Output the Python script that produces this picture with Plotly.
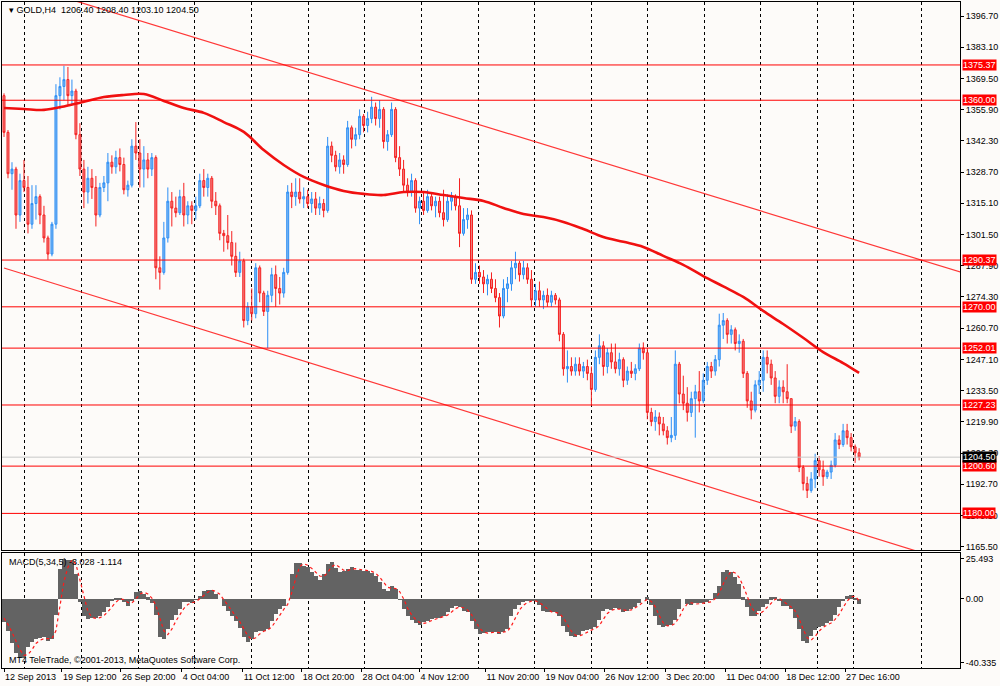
import plotly.graph_objects as go

# ---- GOLD H4 candles (one bar per slot) ----
first_open = 1362.0
closes = [1346, 1328, 1330, 1310, 1325, 1322, 1306, 1315, 1318, 1310,
          1300, 1293, 1306, 1362, 1366, 1369, 1362, 1364, 1345, 1330,
          1320, 1326, 1322, 1310, 1322, 1324, 1333, 1331, 1335, 1332,
          1321, 1323, 1340, 1337, 1330, 1334, 1330, 1335, 1287, 1285,
          1300, 1316, 1313, 1311, 1318, 1310, 1314, 1312, 1314, 1325,
          1322, 1326, 1316, 1314, 1302, 1301, 1298, 1292, 1285, 1290,
          1264, 1270, 1267, 1287, 1276, 1268, 1275, 1284, 1278, 1276,
          1285, 1320, 1318, 1320, 1317, 1318, 1315, 1317, 1313, 1315,
          1312, 1340, 1336, 1331, 1334, 1332, 1348, 1343, 1345, 1353,
          1349, 1352, 1357, 1352, 1356, 1342, 1345, 1356, 1335, 1330,
          1323, 1320, 1325, 1313, 1316, 1312, 1318, 1314, 1316, 1311,
          1308, 1316, 1318, 1314, 1302, 1308, 1310, 1282, 1285, 1283,
          1280, 1282, 1278, 1274, 1266, 1278, 1280, 1287, 1289, 1284,
          1287, 1282, 1273, 1277, 1273, 1275, 1272, 1275, 1273, 1258,
          1243, 1244, 1242, 1245, 1242, 1244, 1241, 1234, 1248, 1253,
          1244, 1250, 1246, 1243, 1247, 1238, 1242, 1241, 1243, 1252,
          1250, 1224, 1220, 1222, 1219, 1216, 1213, 1214, 1245, 1232,
          1228, 1224, 1230, 1233, 1229, 1238, 1244, 1242, 1247, 1262,
          1264, 1258, 1260, 1254, 1255, 1241, 1229, 1225, 1236, 1238,
          1248, 1245, 1239, 1231, 1235, 1233, 1230, 1218, 1220, 1200,
          1193, 1190, 1195, 1203, 1199, 1196, 1198, 1201, 1212, 1210,
          1216, 1213, 1209, 1206.4, 1204.5]
highs = [1363, 1347, 1333, 1331, 1328, 1334, 1327, 1323, 1323, 1319,
         1314, 1301, 1307, 1367, 1370, 1375, 1374.5, 1369, 1365, 1350,
         1334, 1331, 1330, 1327, 1324, 1327, 1337, 1336, 1338, 1339,
         1335, 1325, 1343, 1350.5, 1343, 1340, 1337, 1337, 1336, 1292,
         1307, 1322, 1320, 1318, 1321, 1324, 1316, 1316, 1318, 1328,
         1330, 1328, 1327, 1320, 1315, 1303.5, 1310, 1303, 1298, 1294,
         1291, 1272, 1278, 1289, 1288, 1277, 1277, 1287, 1288, 1283,
         1287, 1323, 1324, 1326, 1326, 1322, 1321, 1320, 1320, 1318,
         1317, 1344, 1342, 1338, 1337, 1336, 1351, 1349, 1348, 1356,
         1354, 1355, 1361.5, 1359, 1360, 1357, 1347, 1359, 1357, 1340,
         1334, 1326, 1328, 1326, 1318, 1320, 1321, 1320, 1318, 1318,
         1321, 1319, 1320, 1319, 1326, 1313, 1313, 1312, 1289, 1288,
         1286, 1284, 1285, 1282, 1276, 1282, 1283, 1290, 1294, 1290,
         1290, 1289, 1286, 1280, 1281, 1277, 1278, 1277, 1276, 1274,
         1259, 1251, 1248, 1248, 1248, 1246, 1247, 1244, 1251, 1258,
         1255, 1252, 1254, 1254, 1250, 1248, 1244, 1246, 1245, 1254,
         1254.5, 1252, 1226, 1225, 1224, 1222, 1218, 1222, 1251, 1246,
         1240, 1235, 1233, 1236, 1242, 1241, 1246, 1246, 1249, 1267,
         1267.3, 1265, 1262, 1261, 1258, 1256, 1242, 1233, 1238, 1242,
         1251, 1251, 1247, 1242, 1238, 1238, 1245, 1230, 1222, 1221,
         1201, 1196, 1198, 1206, 1205, 1203, 1199, 1203, 1215, 1214,
         1219, 1219, 1215, 1210, 1208.4]
lows = [1344, 1326, 1321, 1304, 1307, 1320, 1302, 1304, 1308, 1306,
        1298, 1290.5, 1292, 1304, 1356, 1360, 1358, 1358, 1343, 1327,
        1313, 1315, 1317, 1305, 1309, 1320, 1316, 1328, 1328, 1329,
        1319, 1318, 1322, 1334, 1322, 1322, 1326, 1327, 1282, 1277.5,
        1284, 1298, 1305, 1309, 1310, 1305, 1306, 1306, 1308, 1313,
        1318, 1318, 1313, 1310, 1299, 1294, 1295, 1288, 1283, 1283,
        1261, 1262, 1264, 1265, 1272, 1266, 1252, 1272, 1270, 1271,
        1274, 1284, 1313, 1314, 1315, 1313, 1313, 1311, 1310, 1310,
        1309, 1311, 1333, 1329, 1328, 1328, 1331, 1339, 1340, 1343,
        1346, 1346, 1350, 1349, 1348, 1339, 1338, 1344, 1333, 1327,
        1320, 1318, 1318, 1311, 1306, 1310, 1311, 1312, 1309, 1309,
        1305, 1307, 1312, 1312, 1296, 1301, 1304, 1280, 1280, 1280,
        1276, 1275, 1276, 1272, 1261, 1265, 1272, 1277, 1282, 1281,
        1282, 1280, 1270, 1270, 1270, 1269, 1270, 1270, 1271, 1255,
        1240, 1237, 1240, 1240, 1240, 1239, 1238, 1227, 1233, 1245,
        1240, 1241, 1243, 1241, 1240, 1235, 1236, 1239, 1238, 1242,
        1247, 1221, 1218, 1216, 1214, 1214, 1210, 1211, 1212, 1228,
        1225, 1220, 1222, 1213, 1224, 1228, 1236, 1239, 1240, 1244,
        1256, 1254, 1254, 1251, 1250, 1239, 1226, 1221, 1224, 1232,
        1233, 1241, 1236, 1228, 1228, 1228, 1228, 1215, 1216, 1198,
        1190, 1186.7, 1189, 1191, 1196, 1192, 1195, 1195, 1200, 1208,
        1209, 1210, 1207, 1202, 1203.1]
opens = [first_open] + closes[:-1]
bars = list(range(len(closes)))

# red moving average, sampled every few bars
ma_bars = [0, 5, 10, 15, 20, 25, 30, 35, 40, 45, 50, 55, 60, 65, 70, 75, 80,
           85, 90, 95, 100, 105, 110, 115, 120, 125, 130, 135, 140, 145, 150,
           155, 160, 165, 170, 175, 180, 185, 190, 195, 200, 205, 210, 214]
ma_vals = [1356.6, 1356.2, 1355.8, 1357.3, 1359.3, 1361.4, 1362.3, 1362.7,
           1359.7, 1356.6, 1354.5, 1350.5, 1346.2, 1338.3, 1331.8, 1326.6,
           1323.1, 1320.5, 1319.2, 1318.7, 1320.0, 1320.0, 1318.7, 1317.4,
           1316.1, 1313.1, 1310.4, 1309.1, 1307.0, 1303.9, 1300.4, 1298.3,
           1296.1, 1292.2, 1288.3, 1283.4, 1278.9, 1274.3, 1268.2, 1262.5,
           1256.5, 1250.3, 1245.5, 1241.2]

# trend channel end points (bar, price)
upper_bars, upper_prices = [0, 240], [1412.8, 1284.8]
lower_bars, lower_prices = [0, 240], [1286.9, 1157.3]

levels = [1375.37, 1360.00, 1290.37, 1270.00, 1252.01, 1227.23, 1200.60, 1180.00]
last_price = 1204.50

price_ticks = [1396.70, 1383.10, 1369.50, 1355.90, 1342.30, 1328.70, 1315.10,
               1301.50, 1287.90, 1274.30, 1260.70, 1247.10, 1233.50, 1219.90,
               1206.30, 1192.70, 1179.10, 1165.50]

time_labels = ["12 Sep 2013", "19 Sep 12:00", "26 Sep 20:00", "4 Oct 04:00",
               "11 Oct 12:00", "18 Oct 20:00", "28 Oct 04:00", "4 Nov 12:00",
               "11 Nov 20:00", "19 Nov 04:00", "26 Nov 12:00", "3 Dec 20:00",
               "11 Dec 04:00", "18 Dec 12:00", "27 Dec 16:00"]
time_label_bars = [0, 14.5, 29.25, 44.5, 59.75, 74.5, 89.5, 104, 120.5, 135.25,
                   150.25, 165.5, 180.5, 195.5, 210.5]
grid_bars = [5.25, 19.4, 33.6, 47.75, 61.9, 76.1, 90.25, 104.5, 118.7, 132.8,
             147, 161.1, 175.25, 189.4, 203.6, 212.5, 229.5]

# MACD(5,34,5) histogram and signal
macd = [-14.7, -20, -28, -34, -37, -37, -30.5, -27, -25.5, -24.5,
        -24, -26.3, -25, -10, 19, 25.4, 24.8, 24.5, 16, -2,
        -10.5, -12.5, -12.2, -12, -11, -8.4, -5.3, -1.5, 0.8, 0.3,
        -2.1, -4.2, -1, 4.5, 5.3, 3.2, 1, -2.5, -10, -24,
        -25.2, -18.9, -13, -10, -6, -2.1, -2.1, -2.8, -0.5, 1.8,
        5.3, 5.7, 5.8, 3, 0, -4.2, -7.4, -11, -13.8, -18,
        -24.2, -27.3, -25, -21, -20, -20, -18.9, -14, -9.5, -6,
        -4.2, 0, 16, 22.5, 23, 21, 20, 17, 14.5, 12,
        15.7, 22, 23.5, 19.5, 17, 17.8, 18.9, 20, 18.5, 18,
        17.8, 17.8, 16.5, 14.5, 10.5, 6.3, 5.3, 8.5, 6, -0.5,
        -6.3, -10.5, -13, -15, -16.5, -14.7, -13.7, -12.5, -12, -11.7,
        -10.5, -8.4, -5.8, -4.2, -5, -7.4, -8.4, -14, -19, -22,
        -21.5, -21, -21, -20.5, -22, -20.5, -18.9, -11, -6.3, -3.5,
        -2, -1.2, -1, -1.5, -4, -7.4, -8.4, -8.4, -8.4, -10.5,
        -16.8, -21, -23.5, -24, -22.5, -20.4, -19.5, -19, -17.5, -13.5,
        -7.4, -6.3, -7, -5.8, -6, -8.4, -7.4, -6, -4.8, -2.5,
        0, 1, -4, -11, -16.5, -17.4, -16.8, -16.2, -13, -6,
        0, -3.2, -4, -2.5, -2.5, -2.7, -2.1, -0.5, 3.5, 8,
        16.8, 18.3, 17, 14, 9.5, 1, -5.3, -10.5, -10.5, -7.4,
        -5.3, -3, 1, 1.5, -1.5, -4.2, -4.2, -6.5, -12, -19,
        -26.3, -27.8, -23.5, -19.5, -17.5, -16.8, -15, -13.7, -10, -5.3,
        -1, 2.1, 2.8, 0.5, -3.028]
signal = [-12, -16, -21, -27, -32, -35.5, -35, -32, -28, -26,
          -25, -25, -25, -20, -5, 11, 20, 24.5, 22, 12,
          1, -8, -11.5, -12.3, -11.8, -10.5, -8, -5, -2, 0,
          -0.3, -2.2, -2.5, 0, 3, 4.3, 3.2, 0.6, -3.8, -12,
          -20, -22.5, -19, -14, -10, -6, -3.5, -2.3, -1.8, 0,
          2.2, 4.3, 5.6, 4.8, 3, -0.4, -3.9, -7.5, -10.7, -14.3,
          -18.7, -23.2, -25.5, -24.4, -22, -20.3, -19.6, -17.6, -14, -10,
          -6.6, -3.4, 3.9, 12.8, 20.5, 22.2, 21.3, 19.3, 17.2, 14.5,
          14.1, 16.6, 20.4, 21.7, 20, 18.1, 17.9, 18.9, 19.1, 18.8,
          18.1, 17.9, 17.4, 16.3, 13.8, 10.4, 7.4, 6.7, 6.6, 4.7,
          0.2, -5.8, -10, -12.8, -14.8, -15.4, -14.9, -13.6, -12.7, -12.1,
          -11.4, -10.2, -8.2, -6.1, -5, -5.5, -6.9, -9.9, -13.8, -18.3,
          -20.8, -21.5, -21.2, -20.8, -21.2, -21, -20.5, -16.8, -12.1, -7,
          -3.9, -2.2, -1.4, -1.2, -2.2, -4.3, -6.6, -8.1, -8.4, -9.1,
          -11.9, -16.1, -20.4, -22.8, -23.3, -22.3, -20.8, -19.6, -18.6, -16.7,
          -12.8, -9.1, -7.2, -6.4, -6.3, -6.8, -7.3, -6.9, -5.7, -4,
          -1.8, -0.3, -1.5, -5, -10.5, -15, -16.9, -16.8, -15.3, -11.4,
          -6.3, -3.1, -2.4, -3.2, -3, -2.6, -2.4, -1.8, 0.3, 3.7,
          9.4, 14.4, 17.4, 16.4, 13.5, 8.2, 1.7, -4.9, -8.8, -9.5,
          -7.7, -5.2, -2.4, -0.2, 0.3, -1.4, -3.3, -5, -7.6, -12.5,
          -19.1, -24.4, -25.9, -23.6, -20.2, -17.9, -16.4, -15.1, -12.9, -9.7,
          -5.4, -1.4, 1.3, 1.8, -1.114]
macd_ticks = [25.493, 0.0, -40.335]
macd_ticktext = ["25.493", "0.00", "-40.335"]

BG = "#FDFBF9"
FONT = "Liberation Sans"
GRID = dict(showgrid=True, gridcolor="black", gridwidth=1, griddash="3px,3px")

fig = go.Figure()

fig.add_trace(go.Candlestick(
    x=bars, open=opens, high=highs, low=lows, close=closes,
    increasing=dict(line=dict(color="#2E8FF5", width=1), fillcolor="#7DB8F2"),
    decreasing=dict(line=dict(color="#F52020", width=1), fillcolor="#F08080"),
    whiskerwidth=0, xaxis="x", yaxis="y"))

fig.add_trace(go.Scatter(x=ma_bars, y=ma_vals, mode="lines",
                         line=dict(color="#F01010", width=2.6, shape="spline"),
                         xaxis="x", yaxis="y"))
for bx, py in ((upper_bars, upper_prices), (lower_bars, lower_prices)):
    fig.add_trace(go.Scatter(x=bx, y=py, mode="lines",
                             line=dict(color="rgba(255,20,20,0.85)", width=1.2),
                             xaxis="x", yaxis="y"))

fig.add_trace(go.Bar(x=bars, y=macd, marker=dict(color="#636363", line=dict(width=0)),
                     xaxis="x2", yaxis="y2"))
fig.add_trace(go.Scatter(x=bars, y=signal, mode="lines",
                         line=dict(color="#FF1A1A", width=1.2, dash="dot"),
                         xaxis="x2", yaxis="y2"))

# horizontal levels and the bid line
shapes = [dict(type="line", xref="x domain", x0=0, x1=1, yref="y", y0=lv, y1=lv,
               line=dict(color="#FF0000", width=1)) for lv in levels]
shapes.append(dict(type="line", xref="x domain", x0=0, x1=1, yref="y",
                   y0=last_price, y1=last_price, line=dict(color="#C8C8C8", width=1)))

ann = []
for lv in levels:
    ann.append(dict(xref="paper", x=1, xanchor="left", xshift=2, yref="y", y=lv,
                    text=f"{lv:.2f}", showarrow=False, bgcolor="#FF0000", borderpad=0,
                    font=dict(family=FONT, size=9, color="white")))
ann.append(dict(xref="paper", x=1, xanchor="left", xshift=2, yref="y", y=last_price,
                text=f"{last_price:.2f}", showarrow=False, bgcolor="#000000", borderpad=0,
                font=dict(family=FONT, size=9, color="white")))
ann.append(dict(xref="paper", x=0.005, xanchor="left", yref="paper", y=1, yanchor="top",
                yshift=-1, showarrow=False, align="left",
                text=f"▾ GOLD,H4  {opens[-1]:.2f} {highs[-1]:.2f} {lows[-1]:.2f} {closes[-1]:.2f}",
                font=dict(family=FONT, size=9, color="black")))
ann.append(dict(xref="paper", x=0.005, xanchor="left", yref="y2 domain", y=1, yanchor="top",
                yshift=-2, showarrow=False,
                text=f"MACD(5,34,5) {macd[-1]:.3f} {signal[-1]:.3f}",
                font=dict(family=FONT, size=9, color="black")))
ann.append(dict(xref="paper", x=0.005, xanchor="left", yref="y2 domain", y=0, yanchor="bottom",
                yshift=1, showarrow=False,
                text="MT4 TeleTrade, ©2001-2013, MetaQuotes Software Corp.",
                font=dict(family=FONT, size=9, color="black")))

fig.update_layout(
    width=1000, height=686, margin=dict(l=2, r=40, t=2, b=18, autoexpand=False),
    paper_bgcolor=BG, plot_bgcolor=BG, showlegend=False, bargap=0,
    font=dict(family=FONT, size=9, color="black"),
    shapes=shapes, annotations=ann,
    xaxis=dict(domain=[0, 1], anchor="y", range=[-0.5, 239.25], tickvals=grid_bars,
               showticklabels=False, ticks="", zeroline=False, showline=True, mirror=True,
               linecolor="black", linewidth=1, rangeslider=dict(visible=False),
               automargin=False, **GRID),
    yaxis=dict(domain=[0.1772, 1], anchor="x", side="right", range=[1164.06, 1402.80],
               tickvals=price_ticks, ticktext=[f"{v:.2f}" for v in price_ticks],
               ticks="outside", ticklen=3, tickcolor="black", showgrid=False, zeroline=False,
               showline=True, mirror=True, linecolor="black", linewidth=1, automargin=False),
    xaxis2=dict(domain=[0, 1], anchor="y2", matches="x", tickvals=time_label_bars,
                ticktext=time_labels, ticks="outside", ticklen=3, tickcolor="black",
                tickangle=0, ticklabelposition="outside right", showgrid=False,
                zeroline=False, automargin=False,
                minor=dict(tickvals=grid_bars, ticks="", **GRID),
                showline=True, mirror=True, linecolor="black", linewidth=1),
    yaxis2=dict(domain=[0, 0.1727], anchor="x2", side="right", range=[-43.5, 29.0],
                tickvals=macd_ticks, ticktext=macd_ticktext, ticks="outside", ticklen=3,
                tickcolor="black", showgrid=False, zeroline=False, automargin=False,
                showline=True, mirror=True, linecolor="black", linewidth=1),
)

fig.write_html("out.html", config={"displayModeBar": False},
               post_script="document.body.style.margin='0px';")
